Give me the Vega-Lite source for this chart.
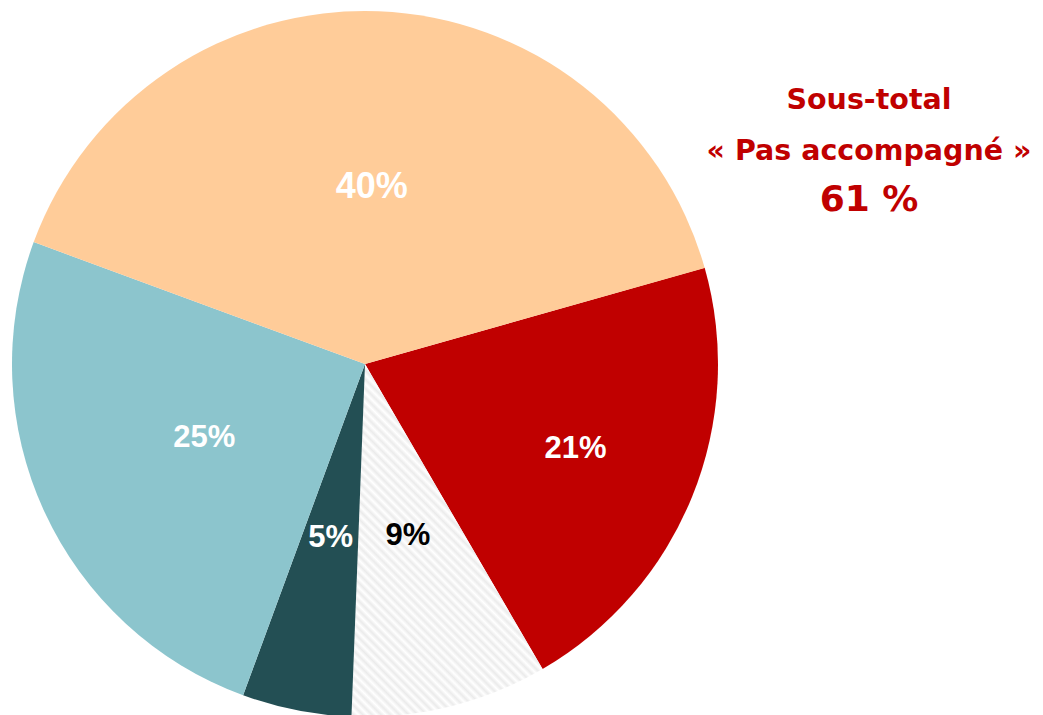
{
  "$schema": "https://vega.github.io/schema/vega-lite/v6.json",
  "padding": 0,
  "spacing": 0,
  "bounds": "flush",
  "background": "white",
  "config": {"view": {"stroke": null}, "concat": {"spacing": 0}},
  "hconcat": [
    {
      "width": 730,
      "height": 728,
      "data": {"values": [
        {"categorie": "Pas accompagné – A", "valeur": 21, "etiquette": "21%", "ordre": 1},
        {"categorie": "Non renseigné", "valeur": 9, "etiquette": "9%", "ordre": 2},
        {"categorie": "Accompagné – B", "valeur": 5, "etiquette": "5%", "ordre": 3},
        {"categorie": "Accompagné – A", "valeur": 25, "etiquette": "25%", "ordre": 4},
        {"categorie": "Pas accompagné – B", "valeur": 40, "etiquette": "40%", "ordre": 5}
      ]},
      "encoding": {
        "theta": {"field": "valeur", "type": "quantitative", "stack": true, "scale": {"range": [1.295, 7.5782]}},
        "order": {"field": "ordre", "type": "quantitative"}
      },
      "layer": [
        {
          "mark": {"type": "arc", "radius": 353},
          "encoding": {
            "color": {
              "condition": {"test": "datum.ordre === 2", "value": {
                "gradient": "linear", "x1": 0, "y1": 1, "x2": 0.541, "y2": 0,
                "stops": [
                  {"offset": 0.00, "color": "#ffffff"}, {"offset": 0.01, "color": "#ebebeb"},
                  {"offset": 0.02, "color": "#ffffff"}, {"offset": 0.03, "color": "#ebebeb"},
                  {"offset": 0.04, "color": "#ffffff"}, {"offset": 0.05, "color": "#ebebeb"},
                  {"offset": 0.06, "color": "#ffffff"}, {"offset": 0.07, "color": "#ebebeb"},
                  {"offset": 0.08, "color": "#ffffff"}, {"offset": 0.09, "color": "#ebebeb"},
                  {"offset": 0.10, "color": "#ffffff"}, {"offset": 0.11, "color": "#ebebeb"},
                  {"offset": 0.12, "color": "#ffffff"}, {"offset": 0.13, "color": "#ebebeb"},
                  {"offset": 0.14, "color": "#ffffff"}, {"offset": 0.15, "color": "#ebebeb"},
                  {"offset": 0.16, "color": "#ffffff"}, {"offset": 0.17, "color": "#ebebeb"},
                  {"offset": 0.18, "color": "#ffffff"}, {"offset": 0.19, "color": "#ebebeb"},
                  {"offset": 0.20, "color": "#ffffff"}, {"offset": 0.21, "color": "#ebebeb"},
                  {"offset": 0.22, "color": "#ffffff"}, {"offset": 0.23, "color": "#ebebeb"},
                  {"offset": 0.24, "color": "#ffffff"}, {"offset": 0.25, "color": "#ebebeb"},
                  {"offset": 0.26, "color": "#ffffff"}, {"offset": 0.27, "color": "#ebebeb"},
                  {"offset": 0.28, "color": "#ffffff"}, {"offset": 0.29, "color": "#ebebeb"},
                  {"offset": 0.30, "color": "#ffffff"}, {"offset": 0.31, "color": "#ebebeb"},
                  {"offset": 0.32, "color": "#ffffff"}, {"offset": 0.33, "color": "#ebebeb"},
                  {"offset": 0.34, "color": "#ffffff"}, {"offset": 0.35, "color": "#ebebeb"},
                  {"offset": 0.36, "color": "#ffffff"}, {"offset": 0.37, "color": "#ebebeb"},
                  {"offset": 0.38, "color": "#ffffff"}, {"offset": 0.39, "color": "#ebebeb"},
                  {"offset": 0.40, "color": "#ffffff"}, {"offset": 0.41, "color": "#ebebeb"},
                  {"offset": 0.42, "color": "#ffffff"}, {"offset": 0.43, "color": "#ebebeb"},
                  {"offset": 0.44, "color": "#ffffff"}, {"offset": 0.45, "color": "#ebebeb"},
                  {"offset": 0.46, "color": "#ffffff"}, {"offset": 0.47, "color": "#ebebeb"},
                  {"offset": 0.48, "color": "#ffffff"}, {"offset": 0.49, "color": "#ebebeb"},
                  {"offset": 0.50, "color": "#ffffff"}, {"offset": 0.51, "color": "#ebebeb"},
                  {"offset": 0.52, "color": "#ffffff"}, {"offset": 0.53, "color": "#ebebeb"},
                  {"offset": 0.54, "color": "#ffffff"}, {"offset": 0.55, "color": "#ebebeb"},
                  {"offset": 0.56, "color": "#ffffff"}, {"offset": 0.57, "color": "#ebebeb"},
                  {"offset": 0.58, "color": "#ffffff"}, {"offset": 0.59, "color": "#ebebeb"},
                  {"offset": 0.60, "color": "#ffffff"}, {"offset": 0.61, "color": "#ebebeb"},
                  {"offset": 0.62, "color": "#ffffff"}, {"offset": 0.63, "color": "#ebebeb"},
                  {"offset": 0.64, "color": "#ffffff"}, {"offset": 0.65, "color": "#ebebeb"},
                  {"offset": 0.66, "color": "#ffffff"}, {"offset": 0.67, "color": "#ebebeb"},
                  {"offset": 0.68, "color": "#ffffff"}, {"offset": 0.69, "color": "#ebebeb"},
                  {"offset": 0.70, "color": "#ffffff"}, {"offset": 0.71, "color": "#ebebeb"},
                  {"offset": 0.72, "color": "#ffffff"}, {"offset": 0.73, "color": "#ebebeb"},
                  {"offset": 0.74, "color": "#ffffff"}, {"offset": 0.75, "color": "#ebebeb"},
                  {"offset": 0.76, "color": "#ffffff"}, {"offset": 0.77, "color": "#ebebeb"},
                  {"offset": 0.78, "color": "#ffffff"}, {"offset": 0.79, "color": "#ebebeb"},
                  {"offset": 0.80, "color": "#ffffff"}, {"offset": 0.81, "color": "#ebebeb"},
                  {"offset": 0.82, "color": "#ffffff"}, {"offset": 0.83, "color": "#ebebeb"},
                  {"offset": 0.84, "color": "#ffffff"}, {"offset": 0.85, "color": "#ebebeb"},
                  {"offset": 0.86, "color": "#ffffff"}, {"offset": 0.87, "color": "#ebebeb"},
                  {"offset": 0.88, "color": "#ffffff"}, {"offset": 0.89, "color": "#ebebeb"},
                  {"offset": 0.90, "color": "#ffffff"}, {"offset": 0.91, "color": "#ebebeb"},
                  {"offset": 0.92, "color": "#ffffff"}, {"offset": 0.93, "color": "#ebebeb"},
                  {"offset": 0.94, "color": "#ffffff"}, {"offset": 0.95, "color": "#ebebeb"},
                  {"offset": 0.96, "color": "#ffffff"}, {"offset": 0.97, "color": "#ebebeb"},
                  {"offset": 0.98, "color": "#ffffff"}, {"offset": 0.99, "color": "#ebebeb"},
                  {"offset": 1.00, "color": "#ffffff"}
                ]
              }},
              "field": "categorie",
              "type": "nominal",
              "scale": {
                "domain": ["Pas accompagné – A", "Non renseigné", "Accompagné – B", "Accompagné – A", "Pas accompagné – B"],
                "range": ["#c00000", "#ffffff", "#234f54", "#8cc5cd", "#ffcc99"]
              },
              "legend": null
            }
          }
        },
        {
          "mark": {"type": "text", "radius": 177, "font": "Liberation Sans", "fontWeight": "bold", "baseline": "middle", "align": "center"},
          "encoding": {
            "text": {"field": "etiquette", "type": "nominal"},
            "color": {"condition": {"test": "datum.ordre === 2", "value": "#000000"}, "value": "#ffffff"},
            "size": {"condition": {"test": "datum.ordre === 5", "value": 36}, "value": 31},
            "opacity": {"condition": {"test": "datum.ordre === 1", "value": 0}, "value": 1}
          }
        },
        {
          "mark": {"type": "text", "radius": 227, "font": "Liberation Sans", "fontWeight": "bold", "fontSize": 31, "baseline": "middle", "align": "center", "color": "#ffffff"},
          "encoding": {
            "text": {"field": "etiquette", "type": "nominal"},
            "opacity": {"condition": {"test": "datum.ordre === 1", "value": 1}, "value": 0}
          }
        }
      ]
    },
    {
      "width": 278,
      "height": 320,
      "data": {"values": [
        {"ligne": 1, "texte": "Sous-total"},
        {"ligne": 2, "texte": "« Pas accompagné »"},
        {"ligne": 3, "texte": "61 %"}
      ]},
      "encoding": {
        "x": {"datum": 0.5, "type": "quantitative", "axis": null, "scale": {"domain": [0, 1], "nice": false, "zero": false}},
        "y": {"field": "ligne", "type": "quantitative", "axis": null, "scale": {"domain": [-1.137, 5.137], "reverse": true, "nice": false, "zero": false}},
        "text": {"field": "texte", "type": "nominal"}
      },
      "layer": [
        {
          "transform": [{"filter": "datum.ligne !== 3"}],
          "mark": {"type": "text", "font": "DejaVu Sans", "fontWeight": "bold", "fontSize": 28.5, "color": "#c00000", "baseline": "alphabetic", "align": "center"}
        },
        {
          "transform": [{"filter": "datum.ligne === 3"}],
          "mark": {"type": "text", "font": "DejaVu Sans", "fontWeight": "bold", "fontSize": 36, "color": "#c00000", "baseline": "alphabetic", "align": "center"}
        }
      ]
    }
  ]
}
